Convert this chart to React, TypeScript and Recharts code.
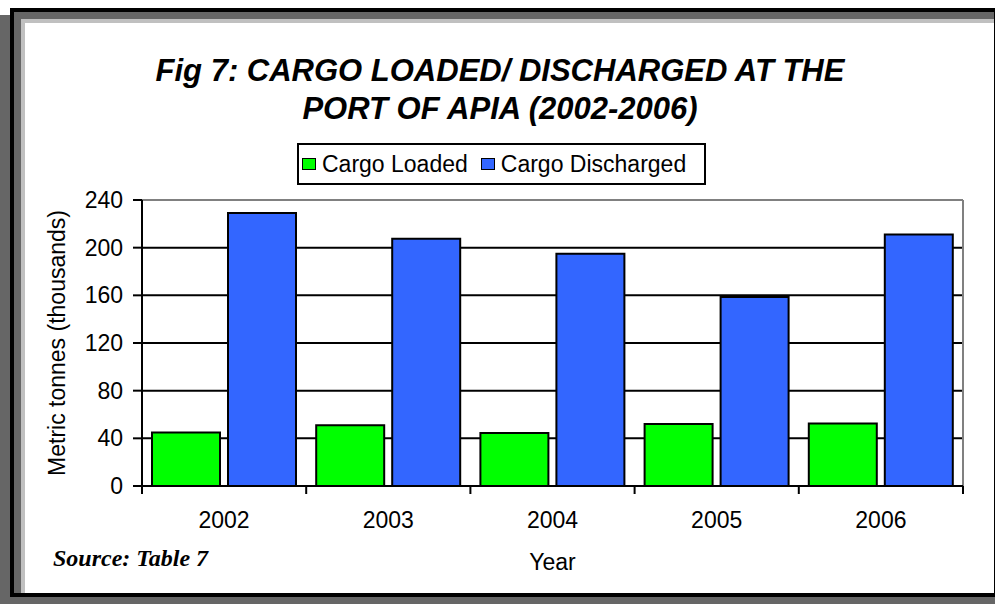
import React from 'react';
import { BarChart, Bar, XAxis, YAxis, CartesianGrid, Legend } from 'recharts';

// Cargo at the Port of Apia, thousands of metric tonnes
const years = ['2002', '2003', '2004', '2005', '2006'];
const cargoLoaded = [45, 51, 44.5, 52, 52.5];
const cargoDischarged = [229, 207.5, 195, 158.5, 211];
const yTicks = [0, 40, 80, 120, 160, 200, 240];

const W = 995;
const H = 604;
const MARGIN = { top: 200, right: 32, bottom: 88, left: 28 };
const Y_AXIS_W = 114;
const X_AXIS_H = 30;
const BAND = (W - MARGIN.left - Y_AXIS_W - MARGIN.right) / years.length;

const FONT = '"Liberation Sans", Arial, sans-serif';
const FONT_SIZE = 23;

const data = years.map((year, i) => ({
  year,
  loaded: cargoLoaded[i],
  discharged: cargoDischarged[i],
}));

const legendItems = [
  { label: 'Cargo Loaded', color: '#00ff00' },
  { label: 'Cargo Discharged', color: '#3366ff' },
];

// ticks sit on the category boundaries, labels in the middle
function YearTick({ x, y, payload, index }: any) {
  return (
    <g>
      <line x1={x - BAND / 2} x2={x - BAND / 2} y1={y} y2={y + 8} stroke="#000" strokeWidth={2} />
      {index === years.length - 1 && (
        <line x1={x + BAND / 2} x2={x + BAND / 2} y1={y} y2={y + 8} stroke="#000" strokeWidth={2} />
      )}
      <text x={x} y={y + 42} textAnchor="middle" fontSize={FONT_SIZE} fontFamily={FONT} fill="#000">
        {payload.value}
      </text>
    </g>
  );
}

function LegendBox() {
  return (
    <div
      style={{
        boxSizing: 'border-box',
        width: 409,
        height: 42,
        border: '2px solid #000',
        background: '#fff',
        display: 'flex',
        alignItems: 'center',
        paddingLeft: 3,
        fontFamily: FONT,
        fontSize: FONT_SIZE,
        color: '#000',
        whiteSpace: 'nowrap',
      }}
    >
      {legendItems.map((item, i) => (
        <span key={item.label} style={{ display: 'flex', alignItems: 'center', marginRight: i === 0 ? 13 : 0 }}>
          <span
            style={{
              boxSizing: 'border-box',
              width: 14,
              height: 12,
              border: '1.5px solid #000',
              background: item.color,
              marginRight: 6,
            }}
          />
          {item.label}
        </span>
      ))}
    </div>
  );
}

export default function App() {
  return (
    <div style={{ position: 'absolute', left: 0, top: 0, width: W, height: H, background: '#fff', overflow: 'hidden' }}>
      {/* frame with shadow */}
      <div style={{ position: 'absolute', left: 0, top: 15, width: W, height: 589, background: '#666' }} />
      <div
        style={{
          position: 'absolute',
          left: 10,
          top: 8,
          width: 988,
          height: 589,
          boxSizing: 'border-box',
          border: '4px solid #000',
          background: '#fff',
        }}
      >
        <div
          style={{
            position: 'absolute',
            inset: 0,
            boxSizing: 'border-box',
            borderTop: '7px solid #666',
            borderLeft: '7px solid #666',
          }}
        >
          <div
            style={{
              position: 'absolute',
              inset: 0,
              boxSizing: 'border-box',
              borderTop: '4px solid #c0c0c0',
              borderLeft: '4px solid #c0c0c0',
            }}
          />
        </div>
      </div>

      <div
        style={{
          position: 'absolute',
          left: 0,
          top: 52,
          width: 1000,
          textAlign: 'center',
          fontFamily: FONT,
          fontWeight: 'bold',
          fontStyle: 'italic',
          fontSize: 31,
          lineHeight: '38px',
          color: '#000',
        }}
      >
        Fig 7: CARGO LOADED/ DISCHARGED AT THE
        <br />
        PORT OF APIA (2002-2006)
      </div>

      <div style={{ position: 'absolute', left: 0, top: 0 }}>
        <BarChart width={W} height={H} data={data} margin={MARGIN} barCategoryGap={10} barGap={8}>
          <CartesianGrid vertical={false} stroke="#000" strokeWidth={2} />
          <CartesianGrid
            stroke="#808080"
            strokeWidth={2}
            horizontalCoordinatesGenerator={({ offset }: any) => [offset.top]}
            verticalCoordinatesGenerator={({ offset }: any) => [offset.left + offset.width]}
          />
          <XAxis
            dataKey="year"
            height={X_AXIS_H}
            interval={0}
            axisLine={{ stroke: '#000', strokeWidth: 2 }}
            tickLine={false}
            tickSize={0}
            tickMargin={0}
            tick={<YearTick />}
            label={{
              value: 'Year',
              position: 'bottom',
              offset: 38,
              style: { fontSize: FONT_SIZE, fontFamily: FONT, fill: '#000' },
            }}
          />
          <YAxis
            domain={[0, 240]}
            ticks={yTicks}
            interval={0}
            width={Y_AXIS_W}
            tickSize={9}
            tickMargin={10}
            axisLine={{ stroke: '#000', strokeWidth: 2 }}
            tickLine={{ stroke: '#000', strokeWidth: 2 }}
            tick={{ fill: '#000', fontSize: FONT_SIZE, fontFamily: FONT }}
            label={{
              value: 'Metric tonnes (thousands)',
              angle: -90,
              position: 'insideLeft',
              offset: 29,
              style: { textAnchor: 'middle', fontSize: FONT_SIZE, fontFamily: FONT, fill: '#000' },
            }}
          />
          <Legend
            layout="horizontal"
            verticalAlign="middle"
            align="center"
            content={<LegendBox />}
            wrapperStyle={{ top: 143, left: 297, width: 409, height: 42 }}
          />
          <Bar dataKey="loaded" name="Cargo Loaded" fill="#00ff00" stroke="#000" strokeWidth={2} isAnimationActive={false} />
          <Bar dataKey="discharged" name="Cargo Discharged" fill="#3366ff" stroke="#000" strokeWidth={2} isAnimationActive={false} />
        </BarChart>
      </div>

      <div
        style={{
          position: 'absolute',
          left: 53,
          top: 546,
          fontFamily: '"Liberation Serif", "Times New Roman", serif',
          fontWeight: 'bold',
          fontStyle: 'italic',
          fontSize: 24,
          lineHeight: '24px',
          color: '#000',
          whiteSpace: 'nowrap',
        }}
      >
        Source: Table 7
      </div>
    </div>
  );
}
